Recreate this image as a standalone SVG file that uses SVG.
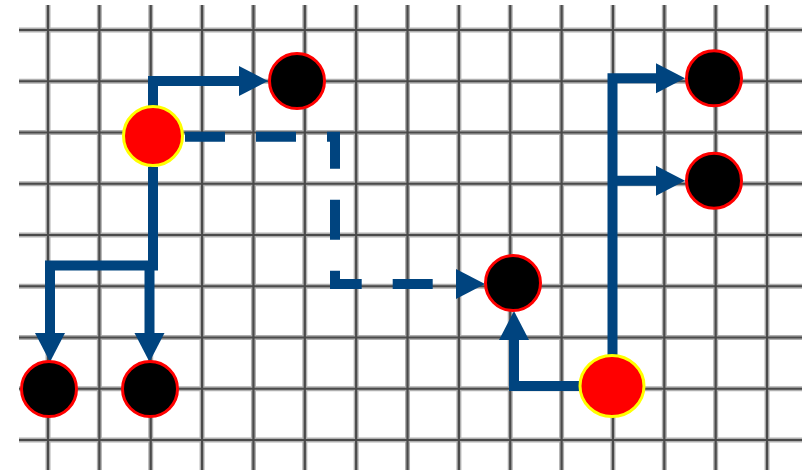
<svg xmlns="http://www.w3.org/2000/svg" width="809" height="470" viewBox="0 0 809 470">
<style>
.gw{stroke:#b0b0b0;stroke-width:5;fill:none}
.gd{stroke:#4a4a4a;stroke-width:2.2;fill:none}
.c{stroke:#00447f;stroke-width:10;fill:none;stroke-linejoin:miter;stroke-linecap:butt}
.dash{stroke-dasharray:40 31}
.src{fill:#ff0000;stroke:#ffff00;stroke-width:3}
.dst{fill:#000000;stroke:#ff0000;stroke-width:3}
</style>
<defs>
<marker id="ah" markerUnits="userSpaceOnUse" markerWidth="30" markerHeight="32" viewBox="0 -16 30 32" refX="0" refY="0" orient="auto">
<path d="M0,-15 L29,0 L0,15 z" fill="#00447f"/>
</marker>
<g id="grid-v">
<path d="M48,5V470M99.36,5V470M150.72,5V470M202.08,5V470M253.44,5V470M304.8,5V470M356.16,5V470M407.52,5V470M458.88,5V470M510.24,5V470M561.6,5V470M612.96,5V470M664.32,5V470M715.68,5V470M767.04,5V470"/>
</g>
<g id="grid-h">
<path d="M19,30H802M19,81.25H802M19,132.5H802M19,183.75H802M19,235H802M19,286.25H802M19,337.5H802M19,388.75H802M19,440H802"/>
</g>
</defs>
<rect width="809" height="470" fill="#ffffff"/>
<g id="grid">
<use href="#grid-v" class="gw"/>
<use href="#grid-h" class="gw"/>
<use href="#grid-v" class="gd"/>
<use href="#grid-h" class="gd"/>
</g>
<g id="connectors">
<path class="c" d="M153,106V81H239" marker-end="url(#ah)"/>
<path class="c" d="M153,167V265.5H50V333" marker-end="url(#ah)"/>
<path class="c" d="M149.5,265.5V333" marker-end="url(#ah)"/>
<path class="c dash" d="M185,136.7H335V284H456" marker-end="url(#ah)"/>
<path class="c" d="M580,386H514V340" marker-end="url(#ah)"/>
<path class="c" d="M612.5,355V78.3H656" marker-end="url(#ah)"/>
<path class="c" d="M612.5,180.7H656" marker-end="url(#ah)"/>
</g>
<g id="source-1"><circle class="src" cx="153" cy="136" r="29.5"/></g>
<g id="target-top"><circle class="dst" cx="297" cy="81" r="27.5"/></g>
<g id="target-bottom-left"><circle class="dst" cx="49" cy="389" r="27.5"/></g>
<g id="target-bottom-mid"><circle class="dst" cx="150" cy="389" r="27.5"/></g>
<g id="target-center"><circle class="dst" cx="513" cy="283" r="27.5"/></g>
<g id="source-2"><ellipse class="src" cx="612" cy="386" rx="32" ry="30.5"/></g>
<g id="target-right-top"><circle class="dst" cx="714" cy="78.3" r="27.5"/></g>
<g id="target-right-mid"><circle class="dst" cx="714" cy="180.7" r="27.5"/></g>
</svg>
